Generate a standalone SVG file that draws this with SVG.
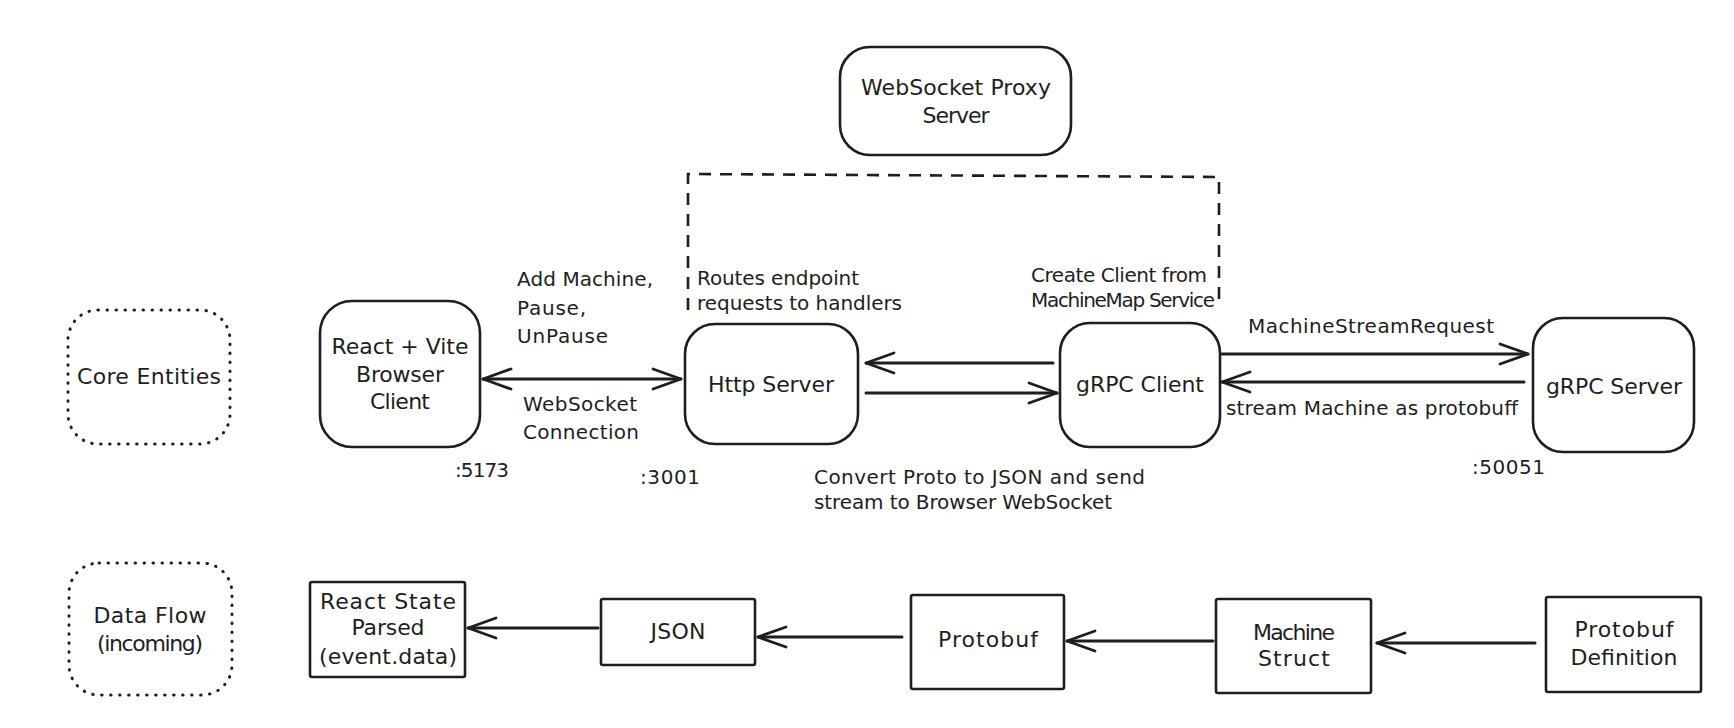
<svg xmlns="http://www.w3.org/2000/svg" width="1734" height="728" viewBox="0 0 1734 728">
<style>
text{font-family:"DejaVu Sans","Noto Sans",sans-serif;fill:#1e1e1e}
.n{font-size:22px;text-anchor:middle}
.l{font-size:20px}
.box{fill:#fff;stroke:#1e1e1e;stroke-width:2.6}
.dot{fill:none;stroke:#1e1e1e;stroke-width:3;stroke-linecap:round;stroke-dasharray:0.5 8.5}
.dash{fill:none;stroke:#1e1e1e;stroke-width:2.6;stroke-dasharray:12 9}
.c{fill:none;stroke:#1e1e1e;stroke-width:3;stroke-linecap:round}
</style>
<defs>
<marker id="ah" viewBox="-32 -14 36 28" refX="0" refY="0" markerWidth="36" markerHeight="28" markerUnits="userSpaceOnUse" orient="auto-start-reverse">
<path d="M-28,-10 L0,0 L-28,10" fill="none" stroke="#1e1e1e" stroke-width="2.8" stroke-linecap="round" stroke-linejoin="round"/>
</marker>
</defs>
<rect width="1734" height="728" fill="#fff"/>

<g id="core-entities">
<rect class="dot" x="68" y="310" width="162" height="134" rx="30"/>
<text class="n" x="149" y="384" textLength="144">Core Entities</text>
</g>
<g id="data-flow">
<rect class="dot" x="69" y="563" width="163" height="132" rx="30"/>
<text class="n" x="150" y="623" textLength="113">Data Flow</text>
<text class="n" x="150" y="651" textLength="106">(incoming)</text>
</g>

<g id="proxy-group">
<path class="dash" d="M688,310 L688,174 L1219,177 L1219,308"/>
</g>

<g id="websocket-proxy">
<rect class="box" x="840" y="47" width="231" height="108" rx="30"/>
<text class="n" x="956" y="95" textLength="190">WebSocket Proxy</text>
<text class="n" x="956" y="123" textLength="67">Server</text>
</g>

<g id="react-client">
<rect class="box" x="320" y="301" width="160" height="146" rx="32"/>
<text class="n" x="400" y="354" textLength="137">React + Vite</text>
<text class="n" x="400" y="382" textLength="88">Browser</text>
<text class="n" x="400" y="409" textLength="60">Client</text>
<text class="l" x="455" y="477" textLength="54">:5173</text>
</g>

<g id="http-server">
<rect class="box" x="685" y="324" width="173" height="120" rx="30"/>
<text class="n" x="771" y="392" textLength="126">Http Server</text>
<text class="l" x="640" y="484" textLength="60">:3001</text>
<text class="l" x="697" y="285" textLength="162">Routes endpoint</text>
<text class="l" x="697" y="310" textLength="205">requests to handlers</text>
</g>

<g id="grpc-client">
<rect class="box" x="1060" y="323" width="160" height="124" rx="30"/>
<text class="n" x="1140" y="392" textLength="128">gRPC Client</text>
<text class="l" x="1031" y="282" textLength="176">Create Client from</text>
<text class="l" x="1031" y="307" textLength="184">MachineMap Service</text>
</g>

<g id="grpc-server">
<rect class="box" x="1533" y="318" width="161" height="134" rx="30"/>
<text class="n" x="1614" y="394" textLength="136">gRPC Server</text>
<text class="l" x="1472" y="474" textLength="73">:50051</text>
</g>

<g id="react-state">
<rect class="box" x="310" y="582" width="155" height="95" rx="2"/>
<text class="n" x="388" y="609" textLength="136">React State</text>
<text class="n" x="388" y="635" textLength="73">Parsed</text>
<text class="n" x="388" y="664" textLength="138">(event.data)</text>
</g>
<g id="json">
<rect class="box" x="601" y="599" width="154" height="66" rx="2"/>
<text class="n" x="678" y="639" textLength="55">JSON</text>
</g>
<g id="protobuf">
<rect class="box" x="911" y="595" width="153" height="94" rx="2"/>
<text class="n" x="988" y="647" textLength="100">Protobuf</text>
</g>
<g id="machine-struct">
<rect class="box" x="1216" y="599" width="155" height="94" rx="2"/>
<text class="n" x="1294" y="640" textLength="82">Machine</text>
<text class="n" x="1294" y="666" textLength="72">Struct</text>
</g>
<g id="protobuf-definition">
<rect class="box" x="1546" y="597" width="155" height="95" rx="2"/>
<text class="n" x="1624" y="637" textLength="99">Protobuf</text>
<text class="n" x="1624" y="665" textLength="107">Definition</text>
</g>

<g id="connectors">
<line class="c" x1="483" y1="379" x2="681" y2="379" marker-start="url(#ah)" marker-end="url(#ah)"/>
<line class="c" x1="1053" y1="363" x2="866" y2="363" marker-end="url(#ah)"/>
<line class="c" x1="866" y1="393" x2="1057" y2="393" marker-end="url(#ah)"/>
<line class="c" x1="1222" y1="354" x2="1528" y2="354" marker-end="url(#ah)"/>
<line class="c" x1="1524" y1="382" x2="1222" y2="382" marker-end="url(#ah)"/>
<line class="c" x1="598" y1="628" x2="468" y2="628" marker-end="url(#ah)"/>
<line class="c" x1="902" y1="637" x2="758" y2="637" marker-end="url(#ah)"/>
<line class="c" x1="1213" y1="641" x2="1067" y2="641" marker-end="url(#ah)"/>
<line class="c" x1="1535" y1="643" x2="1377" y2="643" marker-end="url(#ah)"/>
<text class="l" x="517" y="286" textLength="136">Add Machine,</text>
<text class="l" x="517" y="315" textLength="69">Pause,</text>
<text class="l" x="517" y="343" textLength="91">UnPause</text>
<text class="l" x="523" y="411" textLength="114">WebSocket</text>
<text class="l" x="523" y="439" textLength="116">Connection</text>
<text class="l" x="814" y="484" textLength="331">Convert Proto to JSON and send</text>
<text class="l" x="814" y="509" textLength="298">stream to Browser WebSocket</text>
<text class="l" x="1248" y="333" textLength="246">MachineStreamRequest</text>
<text class="l" x="1226" y="415" textLength="292">stream Machine as protobuff</text>
</g>
</svg>
